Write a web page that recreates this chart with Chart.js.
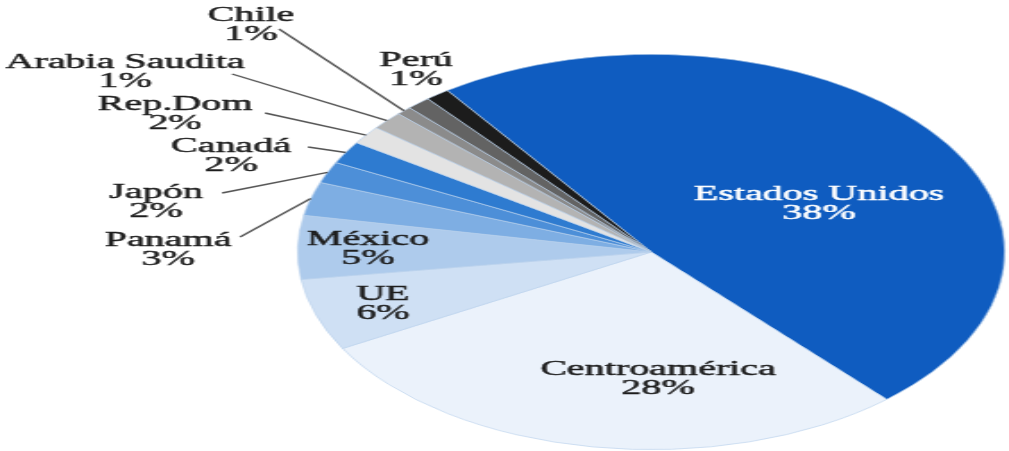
<!DOCTYPE html>
<html>
<head>
<meta charset="utf-8">
<script src="https://cdn.jsdelivr.net/npm/chart.js@4.4.1/dist/chart.umd.min.js"></script>
<style>
  html, body { margin: 0; padding: 0; background: #fff; overflow: hidden; }
  #wrap {
    position: absolute; left: 0; top: 0;
    width: 564px; height: 451px;
    transform: scaleX(1.789); transform-origin: 0 0;
  }
</style>
</head>
<body>
<div id="wrap"><canvas id="exportChart" width="564" height="451"></canvas></div>
<script>
// valores (las etiquetas impresas no suman 100)
const paises = ['Estados Unidos', 'Centroamérica', 'UE', 'México', 'Panamá', 'Japón',
                'Canadá', 'Rep.Dom', 'Arabia Saudita', 'Chile', 'Perú', 'Otros'];
const participacion = [48.2, 28.5, 5.9, 5.2, 2.75, 1.75, 1.85, 1.5, 1.5, 0.7, 1.1, 1.1];
const etiquetasPct = ['38%', '28%', '6%', '5%', '3%', '2%', '2%', '2%', '1%', '1%', '1%', ''];
const colores = ['#0f5cc0', '#ebf2fb', '#cfe0f4', '#aecbec', '#7eaee3', '#4d8fd8',
                 '#2e7bd0', '#e3e3e3', '#b3b3b3', '#8b8b8b', '#636363', '#1c1c1c'];

const STRETCH = 1.789;

// posición de los textos (coordenadas de la imagen final), lx/ly = inicio de la línea guía
const posEtiquetas = [
    { x: 819, y: 200, color: '#ffffff' },
    { x: 658, y: 375 },
    { x: 383, y: 300 },
    { x: 368, y: 245 },
    { x: 168, y: 246, lx: 240, ly: 237 },
    { x: 156, y: 198, lx: 222, ly: 193 },
    { x: 231, y: 152, lx: 308, ly: 147 },
    { x: 175, y: 110, lx: 265, ly: 113 },
    { x: 125, y: 68, lx: 232, ly: 74 },
    { x: 251, y: 21, lx: 279, ly: 29 },
    { x: 416, y: 66 },
    null
];

const etiquetasPlugin = {
    id: 'etiquetas',
    afterDatasetsDraw(chart) {
        const ctx = chart.ctx;
        const meta = chart.getDatasetMeta(0);
        ctx.save();
        ctx.font = '20px "Liberation Serif", "DejaVu Serif", serif';
        ctx.textAlign = 'center';
        ctx.textBaseline = 'alphabetic';
        meta.data.forEach((arc, i) => {
            const p = posEtiquetas[i];
            if (!p) return;
            const tx = p.x / STRETCH;
            if (p.lx !== undefined) {
                const mid = (arc.startAngle + arc.endAngle) / 2;
                const ex = arc.x + Math.cos(mid) * arc.outerRadius;
                const ey = arc.y + Math.sin(mid) * arc.outerRadius;
                ctx.beginPath();
                ctx.moveTo(p.lx / STRETCH, p.ly);
                ctx.lineTo(ex, ey);
                ctx.strokeStyle = '#555555';
                ctx.lineWidth = 1.4;
                ctx.stroke();
            }
            ctx.fillStyle = p.color || '#1e1e1e';
            ctx.strokeStyle = p.color || '#1e1e1e';
            ctx.lineWidth = 0.45;
            [paises[i], etiquetasPct[i]].forEach((t, k) => {
                ctx.save();
                ctx.translate(tx, p.y + k * 18.5);
                ctx.scale(1.12, 1);
                ctx.fillText(t, 0, 0);
                ctx.strokeText(t, 0, 0);
                ctx.restore();
            });
        });
        ctx.restore();
    }
};

new Chart(document.getElementById('exportChart'), {
    type: 'pie',
    data: {
        labels: paises,
        datasets: [{
            data: participacion,
            backgroundColor: colores,
            borderColor: 'rgba(185,208,236,0.9)',
            borderWidth: 0.7
        }]
    },
    options: {
        responsive: false,
        animation: false,
        rotation: -35.2,
        layout: { padding: { left: 166, right: 2, top: 54, bottom: 1 } },
        plugins: {
            legend: { display: false },
            tooltip: { enabled: false }
        }
    },
    plugins: [etiquetasPlugin]
});
</script>
</body>
</html>
